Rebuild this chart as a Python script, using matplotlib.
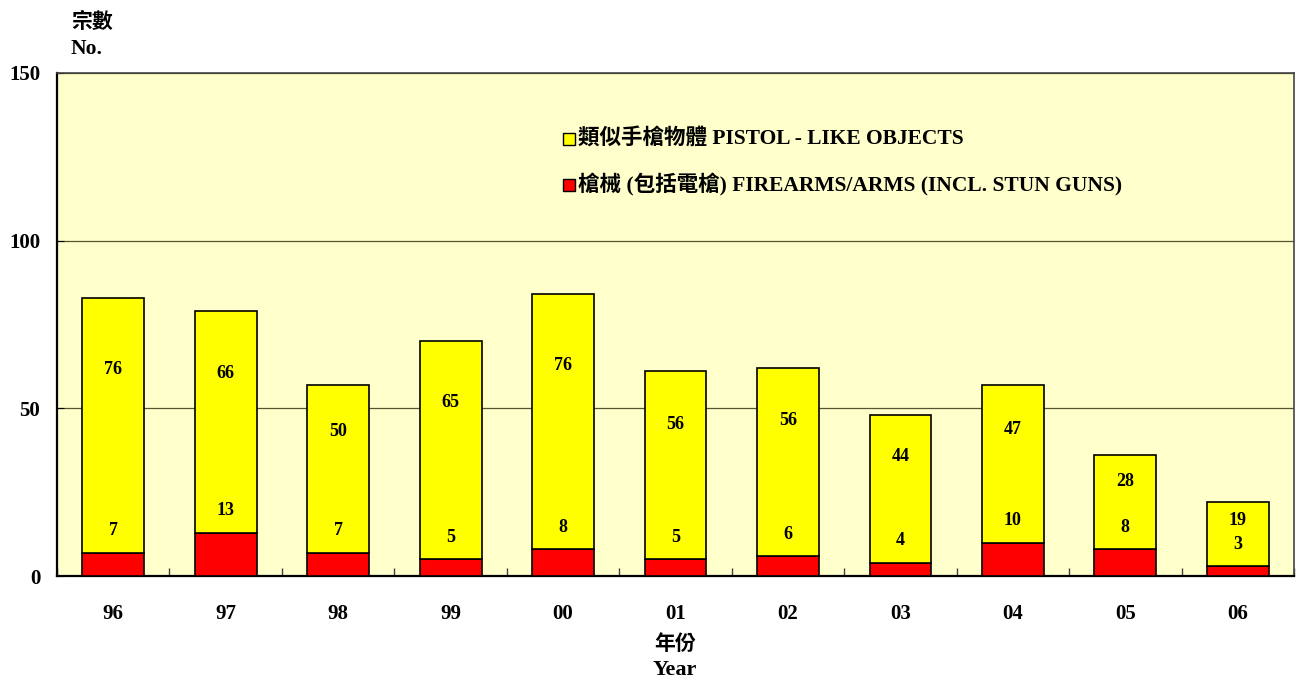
import matplotlib
matplotlib.use('Agg')
import matplotlib.pyplot as plt
import numpy as np

plt.rcParams['font.family'] = ['Liberation Serif', 'Noto Sans CJK TC']
plt.rcParams['font.weight'] = 'bold'

# Data
years = ['96', '97', '98', '99', '00', '01', '02', '03', '04', '05', '06']
firearms = [7, 13, 7, 5, 8, 5, 6, 4, 10, 8, 3]
pistol_like = [76, 66, 50, 65, 76, 56, 56, 44, 47, 28, 19]

label_pistol = '類似手槍物體 PISTOL - LIKE OBJECTS'
label_arms = '槍械 (包括電槍) FIREARMS/ARMS (INCL. STUN GUNS)'

fig = plt.figure(figsize=(12.96, 6.81), dpi=100)
ax = fig.add_axes([0.044, 0.154, 0.9545, 0.739])
ax.set_facecolor('#FFFFCC')

x = np.arange(len(years))
w = 0.55
ax.bar(x, firearms, w, color='#FF0000', edgecolor='black', linewidth=1.2, zorder=3)
ax.bar(x, pistol_like, w, bottom=firearms, color='#FFFF00', edgecolor='black',
       linewidth=1.2, zorder=3)

# value labels
for i in range(len(years)):
    ax.text(x[i], firearms[i] + 6.5, str(firearms[i]), ha='center', va='center',
            fontsize=13, fontweight='bold', zorder=4)
    ax.text(x[i], firearms[i] + 0.72 * pistol_like[i], str(pistol_like[i]),
            ha='center', va='center', fontsize=13, fontweight='bold', zorder=4)

ax.set_xlim(-0.5, len(years) - 0.5)
ax.set_ylim(0, 150)
ax.set_yticks([0, 50, 100, 150])
ax.yaxis.grid(True, color='#555533', linewidth=0.9, zorder=1)
ax.set_axisbelow(True)

ax.set_xticks(x)
ax.set_xticklabels(years, fontsize=15, fontweight='bold')
ax.set_xticks(np.arange(len(years) + 1) - 0.5, minor=True)
ax.tick_params(axis='x', which='major', length=0, pad=20)
ax.tick_params(axis='x', which='minor', direction='in', length=6, width=1, color='#444444')
ax.tick_params(axis='y', direction='in', length=5, labelsize=15, pad=12)
for t in ax.get_yticklabels():
    t.set_fontweight('bold')

for side in ['left', 'bottom']:
    ax.spines[side].set_linewidth(1.6)
    ax.spines[side].set_color('black')
for side in ['top', 'right']:
    ax.spines[side].set_linewidth(1.2)
    ax.spines[side].set_color('#444444')

# legend
lx = 569
for ly, col, txt in [(139, '#FFFF00', label_pistol), (185, '#FF0000', label_arms)]:
    fig.patches.append(plt.Rectangle(((lx - 6) / 1296, 1 - (ly + 6) / 681), 12 / 1296, 12 / 681,
                                     transform=fig.transFigure, facecolor=col,
                                     edgecolor='black', linewidth=1, figure=fig))
    fig.text((lx + 9) / 1296, 1 - ly / 681, txt, ha='left', va='center',
             fontsize=15.5, fontweight='bold')

# axis titles
fig.text(71 / 1296, 1 - 23 / 681, '宗數', ha='left', va='center', fontsize=15, fontweight='bold')
fig.text(71 / 1296, 1 - 49 / 681, 'No.', ha='left', va='center', fontsize=15.5, fontweight='bold')
fig.text(675 / 1296, 1 - 645 / 681, '年份', ha='center', va='center', fontsize=15, fontweight='bold')
fig.text(675 / 1296, 1 - 670 / 681, 'Year', ha='center', va='center', fontsize=16, fontweight='bold')

fig.savefig('out.png', dpi=100)
